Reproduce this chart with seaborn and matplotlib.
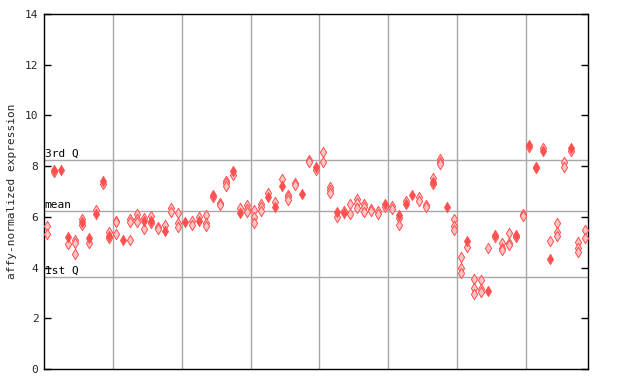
import matplotlib
matplotlib.use("Agg")
import matplotlib.pyplot as plt
import seaborn as sns
import pandas as pd

# sample column index, expression value, filled (1) / hatched (0)
sample = [0, 0, 1, 1, 2, 3, 3, 4, 4, 4, 5, 5, 5, 6, 6, 7, 7, 8, 8, 9, 9, 9,
          10, 10, 10, 11, 12, 12, 12, 13, 13, 13, 14, 14, 14, 15, 15, 15, 16, 16,
          17, 17, 18, 18, 19, 19, 19,
          20, 21, 21, 22, 22, 23, 23, 23, 24, 24, 25, 25, 26, 26, 26, 27, 27,
          28, 28, 29, 29, 29,
          30, 30, 30, 31, 31, 31, 32, 32, 33, 33, 34, 34, 35, 35, 35, 36, 36,
          37, 38, 38, 39, 39,
          40, 40, 41, 41, 41, 42, 42, 43, 43, 44, 44, 45, 45, 45, 46, 46, 46,
          47, 47, 48, 48, 49, 49,
          50, 50, 51, 51, 51, 52, 52, 53, 54, 54, 55, 55, 56, 56, 56, 57, 57, 57,
          58, 59, 59, 59,
          60, 60, 60, 61, 61, 62, 62, 62, 63, 63, 63, 64, 64, 65, 65, 66, 66, 66,
          67, 67, 67, 68, 68, 69, 69,
          70, 70, 71, 71, 72, 72, 73, 73, 74, 74, 74, 75, 75, 76, 76, 77, 77, 77,
          78, 78]
expression = [5.64, 5.32, 7.85, 7.76, 7.85, 5.22, 4.93, 5.08, 4.97, 4.53, 5.92, 5.80, 5.68,
              5.18, 4.96, 6.27, 6.11, 7.41, 7.30, 5.41, 5.24, 5.18,
              5.85, 5.78, 5.32, 5.10, 5.90, 5.78, 5.08, 6.10, 5.90, 5.78, 5.96, 5.85, 5.52,
              6.03, 5.85, 5.76, 5.61, 5.52, 5.68, 5.44, 6.35, 6.20, 6.15, 5.76, 5.60,
              5.81, 5.85, 5.68, 6.00, 5.85, 6.06, 5.77, 5.64, 6.87, 6.78, 6.56, 6.48,
              7.42, 7.32, 7.22, 7.81, 7.65, 6.34, 6.14, 6.45, 6.30, 6.19,
              6.27, 5.98, 5.74, 6.51, 6.38, 6.24, 6.95, 6.80, 6.57, 6.40, 7.48, 7.23,
              6.87, 6.77, 6.66, 7.35, 7.25, 6.91, 8.24, 8.16, 7.98, 7.85,
              8.54, 8.15, 7.16, 7.06, 6.93, 6.20, 6.00, 6.24, 6.14, 6.49, 6.10,
              6.69, 6.53, 6.36, 6.49, 6.40, 6.20, 6.30, 6.24, 6.23, 6.10, 6.52, 6.40,
              6.43, 6.31, 6.06, 5.97, 5.67, 6.64, 6.49, 6.87, 6.77, 6.62, 6.45, 6.37,
              7.52, 7.39, 7.28, 8.27, 8.17, 8.07, 6.40, 5.90, 5.64, 5.50,
              4.40, 3.97, 3.80, 5.06, 4.80, 3.55, 3.18, 2.95, 3.51, 3.15, 3.05,
              4.76, 3.08, 5.30, 5.20, 4.98, 4.78, 4.68, 5.35, 4.98, 4.88, 5.28, 5.22,
              6.12, 6.05,
              8.83, 8.74, 7.98, 7.91, 8.70, 8.61, 5.03, 4.34, 5.74, 5.41, 5.26,
              8.17, 7.98, 8.70, 8.61, 5.00, 4.76, 4.60, 5.50, 5.15]
filled = [0, 0, 1, 0, 1, 1, 0, 0, 0, 0, 0, 1, 0, 1, 0, 0, 1, 1, 0, 0, 1, 0,
          0, 0, 0, 1, 0, 0, 0, 0, 0, 0, 0, 1, 0, 0, 1, 0, 0, 0, 0, 1, 0, 0, 0, 0, 0,
          1, 0, 0, 0, 1, 0, 0, 0, 1, 0, 0, 0, 0, 0, 0, 1, 0, 0, 1, 0, 0, 0,
          0, 0, 0, 0, 0, 0, 0, 1, 0, 1, 0, 1, 0, 0, 0, 0, 0, 1, 0, 0, 1, 0,
          0, 0, 0, 0, 0, 1, 0, 0, 1, 0, 0, 0, 0, 0, 0, 0, 0, 0, 0, 0, 0, 1, 0,
          0, 0, 1, 0, 0, 0, 1, 1, 0, 0, 0, 0, 0, 1, 0, 0, 0, 0, 1, 0, 0, 0,
          0, 0, 0, 1, 0, 0, 0, 0, 0, 0, 0, 0, 1, 1, 0, 0, 0, 0, 0, 0, 0, 1, 0,
          0, 0,
          1, 0, 0, 1, 0, 1, 0, 1, 0, 0, 0, 0, 0, 1, 0, 0, 0, 0, 0, 0]

n_samples = 79
group_size = 10
q1_value, mean_value, q3_value = 3.62, 6.22, 8.24
yticks = [0, 2, 4, 6, 8, 10, 12, 14]

df = pd.DataFrame({"sample": sample, "expression": expression, "filled": filled})

sns.set_theme(style="white")
plt.rcParams['font.family'] = ['DejaVu Sans Mono']

fig = plt.figure(figsize=(6.4, 3.84), dpi=100)
ax = fig.add_axes([44 / 640, 15 / 384, 544 / 640, 355 / 384])

grid_c = "#a8a8a8"
for k in range(1, (n_samples // group_size) + 1):
    ax.axvline(k * group_size - 0.5, color=grid_c, lw=1, zorder=1)
for v in (q1_value, mean_value, q3_value):
    ax.axhline(v, color=grid_c, lw=1, zorder=1)

red = "#ff4f4f"
sns.scatterplot(data=df[df.filled == 0], x="sample", y="expression", marker="d",
                s=28, color="#ffc4c4", edgecolor=red, linewidth=0.7, ax=ax, zorder=3,
                legend=False)
sns.scatterplot(data=df[df.filled == 1], x="sample", y="expression", marker="d",
                s=30, color=red, edgecolor=red, linewidth=0.4, ax=ax, zorder=4,
                legend=False)

ax.set_xlim(-0.5, n_samples - 0.5)
ax.set_ylim(0, 14)
ax.set_yticks(yticks)
ax.set_yticklabels([str(t) for t in yticks])
ax.set_xticks([])
ax.set_xlabel("")
ax.set_ylabel("affy-normalized expression", fontsize=8, labelpad=6)
ax.tick_params(axis="y", direction="in", length=5, width=1, left=True, right=True,
               labelleft=True, labelright=False, labelsize=8, pad=4, color="black")

trans = ax.get_yaxis_transform()
for v, lab in ((q3_value, "3rd Q"), (mean_value, "mean"), (q1_value, "1st Q")):
    ax.text(0.001, v + 0.05, lab, transform=trans, ha="left", va="bottom",
            fontsize=8, color="black", zorder=5)

for s in ax.spines.values():
    s.set_color("black")
    s.set_linewidth(1)
    s.set_visible(True)

fig.savefig("out.png", dpi=100)
